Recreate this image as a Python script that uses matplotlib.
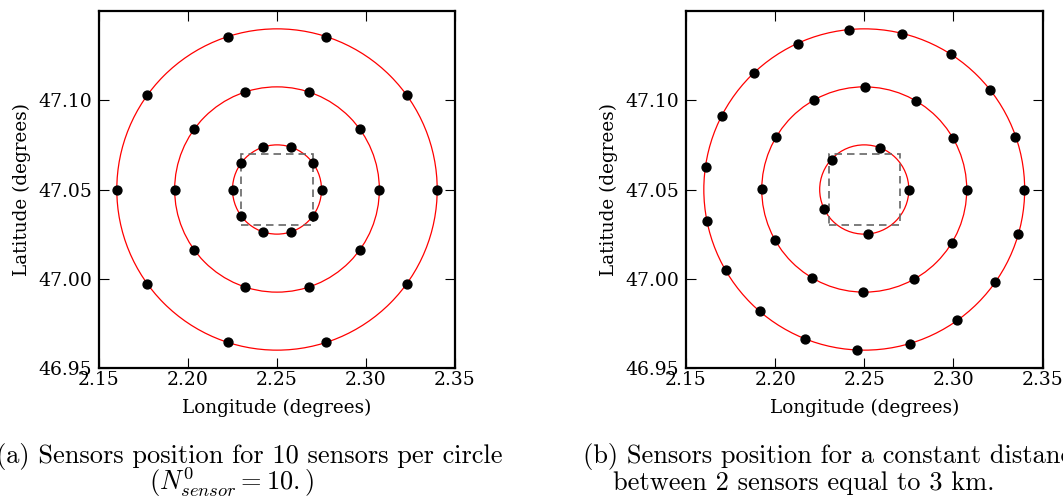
import matplotlib
matplotlib.use("Agg")
import matplotlib.pyplot as plt
from matplotlib.patches import Circle, Rectangle

# ---------------- data ----------------
center = (2.25, 47.05)
radii = [0.025, 0.0575, 0.09]
zone_lon = (2.23, 2.27)
zone_lat = (47.03, 47.07)

xticks = [2.15, 2.20, 2.25, 2.30, 2.35]
yticks = [46.95, 47.00, 47.05, 47.10]

# (a) 10 sensors per circle
a_inner_lon = [2.2750, 2.2702, 2.2577, 2.2423, 2.2298, 2.2250, 2.2298, 2.2423, 2.2577, 2.2702]
a_inner_lat = [47.0500, 47.0647, 47.0738, 47.0738, 47.0647, 47.0500, 47.0353, 47.0262, 47.0262, 47.0353]
a_mid_lon = [2.3075, 2.2965, 2.2678, 2.2322, 2.2035, 2.1925, 2.2035, 2.2322, 2.2678, 2.2965]
a_mid_lat = [47.0500, 47.0838, 47.1047, 47.1047, 47.0838, 47.0500, 47.0162, 46.9953, 46.9953, 47.0162]
a_out_lon = [2.3400, 2.3228, 2.2778, 2.2222, 2.1772, 2.1600, 2.1772, 2.2222, 2.2778, 2.3228]
a_out_lat = [47.0500, 47.1029, 47.1356, 47.1356, 47.1029, 47.0500, 46.9971, 46.9644, 46.9644, 46.9971]

# (b) constant distance of 3 km between sensors
b_inner_lon = [2.2590, 2.2317, 2.2276, 2.2522, 2.2750]
b_inner_lat = [47.0734, 47.0666, 47.0390, 47.0250, 47.0500]
b_mid_lon = [2.2504, 2.2790, 2.2999, 2.3074, 2.2992, 2.2779, 2.2491, 2.2205, 2.1999, 2.1926, 2.2007, 2.2218]
b_mid_lat = [47.1072, 47.0995, 47.0786, 47.0500, 47.0203, 46.9997, 46.9926, 47.0007, 47.0218, 47.0504, 47.0792, 47.0999]
b_out_lon = [2.2414, 2.2709, 2.2984, 2.3207, 2.3347, 2.3397, 2.3362, 2.3233, 2.3021, 2.2754,
             2.2457, 2.2169, 2.1913, 2.1722, 2.1618, 2.1612, 2.1702, 2.1879, 2.2126]
b_out_lat = [47.1393, 47.1373, 47.1257, 47.1055, 47.0795, 47.0500, 47.0248, 46.9979, 46.9767, 46.9636,
             46.9603, 46.9664, 46.9818, 47.0048, 47.0326, 47.0625, 47.0911, 47.1150, 47.1317]

caption_a1 = "(a) Sensors position for 10 sensors per circle"
caption_a2 = r"$(N^0_{sensor} = 10.)$"
caption_b1 = "(b) Sensors position for a constant distance"
caption_b2 = "between 2 sensors equal to 3 km."

# ---------------- figure ----------------
plt.rcParams["mathtext.fontset"] = "cm"
W, H = 1063, 496
fig = plt.figure(figsize=(W / 100, H / 100), dpi=100)

def px_axes(x0, y0, x1, y1):
    return fig.add_axes([x0 / W, 1 - y1 / H, (x1 - x0) / W, (y1 - y0) / H])

ax_a = px_axes(99, 11, 455, 368)
ax_b = px_axes(686, 11, 1042.5, 368)

panels = [
    (ax_a, [(a_inner_lon, a_inner_lat), (a_mid_lon, a_mid_lat), (a_out_lon, a_out_lat)]),
    (ax_b, [(b_inner_lon, b_inner_lat), (b_mid_lon, b_mid_lat), (b_out_lon, b_out_lat)]),
]

for ax, rings in panels:
    for r in radii:
        ax.add_patch(Circle(center, r, fill=False, edgecolor="red", lw=0.9, zorder=2))
    ax.add_patch(Rectangle((zone_lon[0], zone_lat[0]), zone_lon[1] - zone_lon[0],
                           zone_lat[1] - zone_lat[0], fill=False, edgecolor="#666666",
                           lw=1.2, linestyle=(0, (4.5, 3)), zorder=3))
    for lon, lat in rings:
        ax.plot(lon, lat, "o", color="black", markersize=6.4, zorder=4)
    ax.set_xlim(2.15, 2.35)
    ax.set_ylim(46.95, 47.15)
    ax.set_xticks(xticks)
    ax.set_yticks(yticks)
    ax.set_xticklabels([f"{v:.2f}" for v in xticks])
    ax.set_yticklabels([f"{v:.2f}" for v in yticks])
    ax.tick_params(direction="in", length=7, width=0.8, top=True, right=True,
                   labelsize=13.5, labelfontfamily="DejaVu Serif")
    ax.tick_params(axis="x", pad=2.5)
    ax.tick_params(axis="y", pad=5)
    for s in ax.spines.values():
        s.set_linewidth(1.6)
    ax.set_xlabel("Longitude (degrees)", fontsize=13.2, family="DejaVu Serif", labelpad=6.5)
    ax.set_ylabel("Latitude (degrees)", fontsize=13.2, family="DejaVu Serif", labelpad=5)

cap_kw = dict(fontsize=19, family="cmr10", va="baseline")
fig.text(502 / W, 1 - 463 / H, caption_a1, ha="right", **cap_kw)
fig.text(232 / W, 1 - 490 / H, caption_a2, ha="center", **cap_kw)
fig.text(583 / W, 1 - 463 / H, caption_b1, ha="left", **cap_kw)
fig.text(804 / W, 1 - 490 / H, caption_b2, ha="center", **cap_kw)

fig.savefig("out.png", dpi=100)
